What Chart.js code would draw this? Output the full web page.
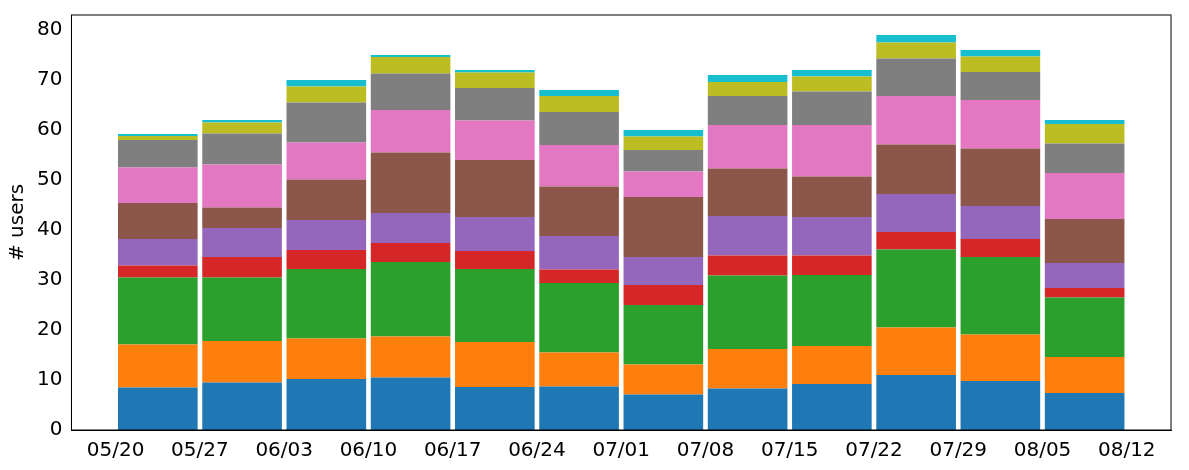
<!DOCTYPE html>
<html><head><meta charset="utf-8">
<script src="https://cdn.jsdelivr.net/npm/chart.js@4/dist/chart.umd.min.js"></script>
<style>html,body{margin:0;padding:0;background:#fff}#w{width:1189px;height:470px;position:relative}</style>
</head><body><div id="w"><canvas id="c"></canvas></div>
<script>
const tickLabels = ["05/20","05/27","06/03","06/10","06/17","06/24","07/01","07/08","07/15","07/22","07/29","08/05","08/12"];
const barPositions = [0.5,1.5,2.5,3.5,4.5,5.5,6.5,7.5,8.5,9.5,10.5,11.5];
const s1 = [8.5,9.5,10.2,10.5,8.6,8.7,7.1,8.3,9.2,11.0,9.8,7.4];
const s2 = [8.6,8.3,8.1,8.2,9.0,6.8,6.0,7.9,7.6,9.5,9.3,7.2];
const s3 = [13.4,12.7,13.9,14.9,14.6,13.9,11.9,14.7,14.2,15.6,15.5,11.9];
const s4 = [2.4,4.1,3.8,3.8,3.6,2.7,4.0,4.0,3.9,3.5,3.6,1.9];
const s5 = [5.3,5.8,6.0,6.0,6.8,6.7,5.6,7.9,7.7,7.6,6.6,5.0];
const s6 = [7.2,4.1,8.1,12.1,11.4,9.9,12.0,9.5,8.1,9.9,11.5,8.8];
const s7 = [7.1,8.6,7.4,8.5,7.9,8.3,5.1,8.7,10.3,9.7,9.7,9.2];
const s8 = [5.5,6.2,8.0,7.3,6.5,6.6,4.3,5.8,6.7,7.5,5.6,5.9];
const s9 = [0.8,2.2,3.2,3.3,3.1,3.2,2.7,2.8,3.0,3.2,3.1,3.9];
const s10 = [0.4,0.5,1.3,0.4,0.5,1.2,1.3,1.4,1.3,1.5,1.3,0.8];
const series = [s1,s2,s3,s4,s5,s6,s7,s8,s9,s10];
const colors = ["#1f77b4","#ff7f0e","#2ca02c","#d62728","#9467bd","#8c564b","#e377c2","#7f7f7f","#bcbd22","#17becf"];
const F = "'DejaVu Sans', sans-serif";
new Chart(document.getElementById('c'), {
  type: 'bar',
  data: { datasets: series.map((s,k)=>({
    data: s.map((v,i)=>({x:barPositions[i], y:v})),
    backgroundColor: colors[k], borderWidth: 0,
    barPercentage: 0.945, categoryPercentage: 1
  }))},
  options: {
    responsive:true, maintainAspectRatio:false, animation:false,
    layout:{padding:{left:2,right:18,top:10,bottom:4}},
    plugins:{legend:{display:false}, tooltip:{enabled:false}},
    scales:{
      x:{type:'linear', stacked:true, offset:false, min:-0.525, max:12.525,
        afterBuildTicks:(sc)=>{sc.ticks = tickLabels.map((_,i)=>({value:i}));},
        ticks:{autoSkip:false, maxRotation:0, color:'#000', font:{family:F,size:20}, callback:(v)=>tickLabels[v]},
        grid:{display:false, drawTicks:true, tickLength:6, tickColor:'#000'},
        border:{color:'#000'}},
      y:{stacked:true, min:0, max:83,
        afterBuildTicks:(sc)=>{sc.ticks=[0,10,20,30,40,50,60,70,80].map(v=>({value:v}));},
        ticks:{color:'#000', font:{family:F,size:20}},
        grid:{display:false, drawTicks:true, tickLength:6, tickColor:'#000'},
        border:{color:'#000'},
        title:{display:true, text:'# users', color:'#000', font:{family:F,size:20}}}
    }
  },
  plugins:[{id:'frame', afterDraw(c){const a=c.chartArea,x=c.ctx;x.save();x.strokeStyle='#000';x.lineWidth=1;x.strokeRect(a.left,a.top,a.right-a.left,a.bottom-a.top);x.restore();}}]
});
</script></body></html>
